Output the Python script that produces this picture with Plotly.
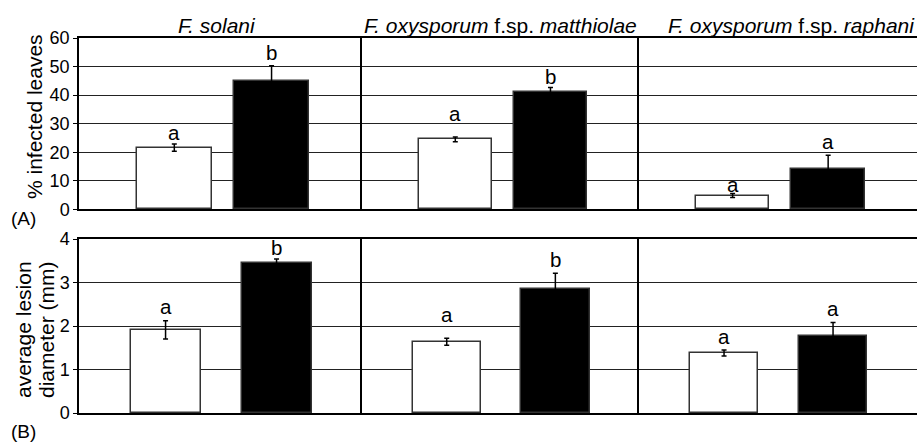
import plotly.graph_objects as go

# Pathogen panels (titles with italic genus/species parts)
pathogen_titles = [
    "<i>F. solani</i>",
    "<i>F. oxysporum</i> f.sp. <i>matthiolae</i>",
    "<i>F. oxysporum</i> f.sp. <i>raphani</i>",
]

# (A) % infected leaves: open bars and filled bars, with standard errors
infected_open = [21.6, 24.5, 4.8]
infected_open_err = [1.3, 0.8, 0.7]
infected_filled = [44.8, 41.0, 14.2]
infected_filled_err = [5.5, 1.7, 4.7]
infected_letters = [["a", "b"], ["a", "b"], ["a", "a"]]

# (B) average lesion diameter (mm)
lesion_open = [1.91, 1.64, 1.38]
lesion_open_err = [0.21, 0.08, 0.07]
lesion_filled = [3.44, 2.85, 1.78]
lesion_filled_err = [0.10, 0.36, 0.30]
lesion_letters = [["a", "b"], ["a", "b"], ["a", "a"]]

infected_ticks = [0, 10, 20, 30, 40, 50, 60]
lesion_ticks = [0, 1, 2, 3, 4]

FONT = "Liberation Sans, Arial, sans-serif"
FS_TITLE = 21
FS_TICK = 18
FS_LETTER = 20.5
FS_PANEL = 19
W, H = 917, 446
ML, MR, MT, MB = 79, 0, 38, 33
plot_w = W - ML - MR
plot_h = H - MT - MB

# panel column edges in pixels
col_edges = [79, 362, 639, 917]
col_domains = [[(col_edges[i] - ML) / plot_w, (col_edges[i + 1] - ML) / plot_w] for i in range(3)]
col_domains[-1][1] = 1.0
row_domains = [[(413 - 209.3) / plot_h, 1.0], [0.0, (413 - 239) / plot_h]]


def px_x(p):
    return (p - ML) / plot_w


def px_y(p):
    return (H - MB - p) / plot_h


fig = go.Figure()

rows = [
    dict(open=infected_open, open_err=infected_open_err, filled=infected_filled,
         filled_err=infected_filled_err, letters=infected_letters, ticks=infected_ticks,
         yrange=[0, 60], xrange=[-0.98, 1.93], bar_w=0.77,
         lifts=[[-2, 0], [10, -3], [-4, 0]]),
    dict(open=lesion_open, open_err=lesion_open_err, filled=lesion_filled,
         filled_err=lesion_filled_err, letters=lesion_letters, ticks=lesion_ticks,
         yrange=[0, 4], xrange=[-0.78, 1.77], bar_w=0.63,
         lifts=[[1, -2], [10, 0], [0, 1]]),
]

annotations = []
n = 0
for r, row in enumerate(rows):
    for c in range(3):
        n += 1
        sfx = "" if n == 1 else str(n)
        xa, ya = "x" + sfx, "y" + sfx
        vals = [row["open"][c], row["filled"][c]]
        errs = [row["open_err"][c], row["filled_err"][c]]
        fig.add_trace(go.Bar(
            x=[0, 1], y=vals, width=row["bar_w"],
            marker=dict(color=["white", "black"], line=dict(color="#333333", width=1.5)),
            error_y=dict(type="data", array=errs, visible=True, color="black",
                         thickness=1.5, width=2.5),
            xaxis=xa, yaxis=ya, showlegend=False, hoverinfo="skip",
        ))
        for k in range(2):
            annotations.append(dict(
                x=k, y=vals[k] + errs[k], xref=xa, yref=ya, text=row["letters"][c][k],
                showarrow=False, yanchor="bottom", yshift=row["lifts"][c][k],
                font=dict(family=FONT, size=FS_LETTER, color="black"),
            ))
        fig.layout["xaxis" + sfx] = dict(
            domain=col_domains[c], range=row["xrange"], anchor=ya,
            showticklabels=False, ticks="", showgrid=False, zeroline=False,
            showline=True, linecolor="black", linewidth=1.5, mirror=True,
        )
        fig.layout["yaxis" + sfx] = dict(
            domain=row_domains[r], range=row["yrange"], anchor=xa,
            tickvals=row["ticks"], showticklabels=(c == 0),
            ticks="outside" if c == 0 else "", ticklen=4, tickcolor="black",
            showgrid=True, gridcolor="#222222", gridwidth=1, zeroline=False,
            showline=True, linecolor="black", linewidth=1.5,
            tickfont=dict(family=FONT, size=FS_TICK, color="black"),
        )

# panel titles
title_x_px = [216.7, 500.5, 791.7]
for c, t in enumerate(pathogen_titles):
    annotations.append(dict(
        x=px_x(title_x_px[c]), y=px_y(26), xref="paper", yref="paper",
        text=t, showarrow=False, xanchor="center", yanchor="middle",
        font=dict(family=FONT, size=FS_TITLE, color="black"),
    ))

# y-axis titles and panel labels
side_text = [
    ("% infected leaves", 34, 117, -90, FS_TITLE),
    ("average lesion", 23, 330, -90, FS_TITLE),
    ("diameter (mm)", 46, 330, -90, FS_TITLE),
    ("(A)", 23.5, 218, 0, FS_PANEL),
    ("(B)", 23.5, 431, 0, FS_PANEL),
]
for text, xp, yp, ang, fs in side_text:
    annotations.append(dict(
        x=px_x(xp), y=px_y(yp), xref="paper", yref="paper", text=text,
        textangle=ang, showarrow=False, xanchor="center", yanchor="middle",
        font=dict(family=FONT, size=fs, color="black"),
    ))

fig.update_layout(
    width=W, height=H,
    margin=dict(l=ML, r=MR, t=MT, b=MB),
    paper_bgcolor="white", plot_bgcolor="white",
    annotations=annotations, bargap=0,
    font=dict(family=FONT, size=FS_TITLE, color="black"),
)

fig.write_html("out.html")
